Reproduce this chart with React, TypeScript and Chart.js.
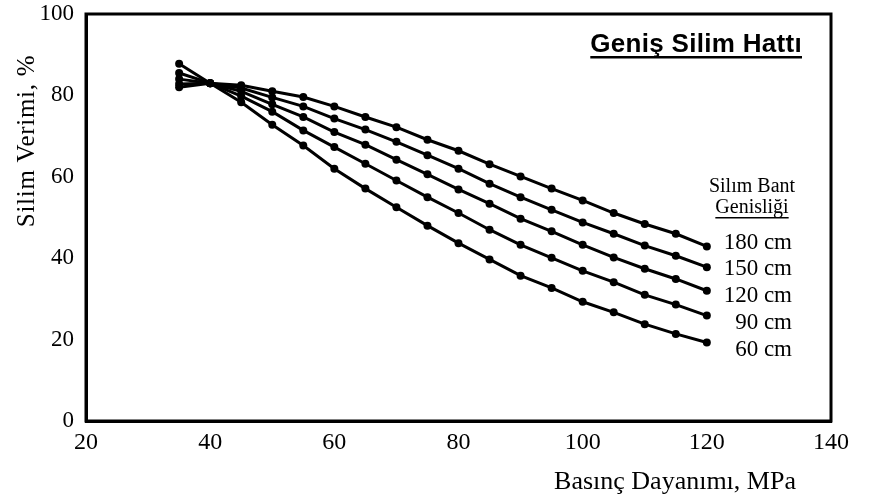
import React, { useEffect, useRef } from "react";
import { Chart, registerables } from "chart.js";

Chart.register(...registerables);

const xValues = [35, 40, 45, 50, 55, 60, 65, 70, 75, 80, 85, 90, 95, 100, 105, 110, 115, 120];
const s180 = [82, 83, 82.5, 81, 79.6, 77.3, 74.7, 72.2, 69.1, 66.4, 63.1, 60.1, 57.1, 54.2, 51.1, 48.4, 46.0, 42.9];
const s150 = [82.8, 83, 81.8, 79.5, 77.3, 74.3, 71.6, 68.6, 65.3, 62.0, 58.3, 55.0, 51.9, 48.8, 46.0, 43.1, 40.6, 37.8];
const s120 = [84, 83, 81, 77.8, 74.7, 71.0, 67.9, 64.2, 60.6, 56.9, 53.4, 49.7, 46.6, 43.3, 40.2, 37.4, 34.9, 32.0];
const s90 = [85.5, 83, 79.8, 76, 71.4, 67.3, 63.2, 59.1, 55.0, 51.1, 47.0, 43.3, 40.1, 36.9, 34.1, 31.0, 28.6, 25.9];
const s60 = [87.8, 83, 78.3, 72.8, 67.7, 62.0, 57.1, 52.5, 48.0, 43.7, 39.7, 35.7, 32.7, 29.3, 26.7, 23.8, 21.4, 19.3];
const seriesLabels = ["180 cm", "150 cm", "120 cm", "90 cm", "60 cm"];
const titleText = "Geniş Silim Hattı";
const legendTitle1 = "Silım Bant";
const legendTitle2 = "Genisliği";
const xTitle = "Basınç Dayanımı, MPa";
const yTitle = "Silim Verimi, %";

const SERIF = "'Liberation Serif', 'DejaVu Serif', serif";
const SANS = "'Liberation Sans', Arial, sans-serif";

const annotPlugin = {
  id: "annot",
  afterDraw(chart: any) {
    const ctx = chart.ctx;
    const a = chart.chartArea;
    ctx.save();
    // frame
    ctx.strokeStyle = "#000";
    ctx.lineWidth = 3;
    ctx.strokeRect(a.left, a.top, a.right - a.left, a.bottom - a.top);
    ctx.fillStyle = "#000";
    // title
    ctx.font = `bold 26px ${SANS}`;
    ctx.textAlign = "left";
    ctx.textBaseline = "alphabetic";
    try { (ctx as any).letterSpacing = "0.3px"; } catch (e) {}
    const tw = ctx.measureText(titleText).width;
    const tx = 802 - tw;
    ctx.fillText(titleText, tx, 52);
    ctx.fillRect(tx, 56, tw, 2.5);
    try { (ctx as any).letterSpacing = "0px"; } catch (e) {}
    // legend title
    ctx.font = `20px ${SERIF}`;
    ctx.textAlign = "center";
    ctx.fillText(legendTitle1, 752, 192);
    ctx.fillText(legendTitle2, 752, 213);
    const lw = ctx.measureText(legendTitle2).width;
    ctx.fillRect(752 - lw / 2, 217, lw, 1.5);
    // series labels
    ctx.font = `23px ${SERIF}`;
    ctx.textAlign = "right";
    ctx.textBaseline = "middle";
    const ys = [243, 269, 296, 323, 350];
    seriesLabels.forEach((t, i) => ctx.fillText(t, 792, ys[i]));
    // x title
    ctx.font = `26px ${SERIF}`;
    ctx.textAlign = "center";
    ctx.fillText(xTitle, 675, 482);
    // y title
    ctx.translate(27, 141);
    ctx.rotate(-Math.PI / 2);
    ctx.font = `25px ${SERIF}`;
    try { (ctx as any).letterSpacing = "0.7px"; } catch (e) {}
    ctx.fillText(yTitle, 0, 0);
    ctx.restore();
  },
};

export default function App() {
  const ref = useRef<HTMLCanvasElement>(null);
  useEffect(() => {
    const mk = (d: number[]) => ({
      data: d.map((y, i) => ({ x: xValues[i], y })),
      borderColor: "#000",
      backgroundColor: "#000",
      borderWidth: 3,
      pointRadius: 4,
      pointBackgroundColor: "#000",
      pointBorderWidth: 0,
      tension: 0,
    });
    const chart = new Chart(ref.current!, {
      type: "line",
      data: {
        datasets: [mk(s180), mk(s150), mk(s120), mk(s90), mk(s60)],
      },
      options: {
        animation: false,
        responsive: false,
        layout: { padding: { left: 0, top: 14, right: 39, bottom: 0 } },
        plugins: { legend: { display: false }, tooltip: { enabled: false } },
        scales: {
          x: {
            type: "linear",
            min: 20,
            max: 140,
            ticks: {
              stepSize: 20,
              color: "#000",
              padding: 7,
              font: { family: SERIF, size: 24 },
            },
            grid: { display: false, drawTicks: false },
            border: { display: true, color: "#000", width: 3 },
            afterFit: (s: any) => { s.height = 82; s.paddingLeft = 0; s.paddingRight = 0; },
          },
          y: {
            type: "linear",
            min: 0,
            max: 100,
            ticks: {
              stepSize: 20,
              color: "#000",
              padding: 12,
              font: { family: SERIF, size: 23 },
            },
            grid: { display: false, drawTicks: false },
            border: { display: true, color: "#000", width: 3 },
            afterFit: (s: any) => { s.width = 86; s.paddingTop = 0; s.paddingBottom = 0; },
          },
        },
      },
      plugins: [annotPlugin],
    } as any);
    return () => chart.destroy();
  }, []);
  return (
    <div style={{ position: "absolute", left: 0, top: 0, width: 870, height: 503, background: "#fff" }}>
      <canvas ref={ref} width={870} height={503} />
    </div>
  );
}
